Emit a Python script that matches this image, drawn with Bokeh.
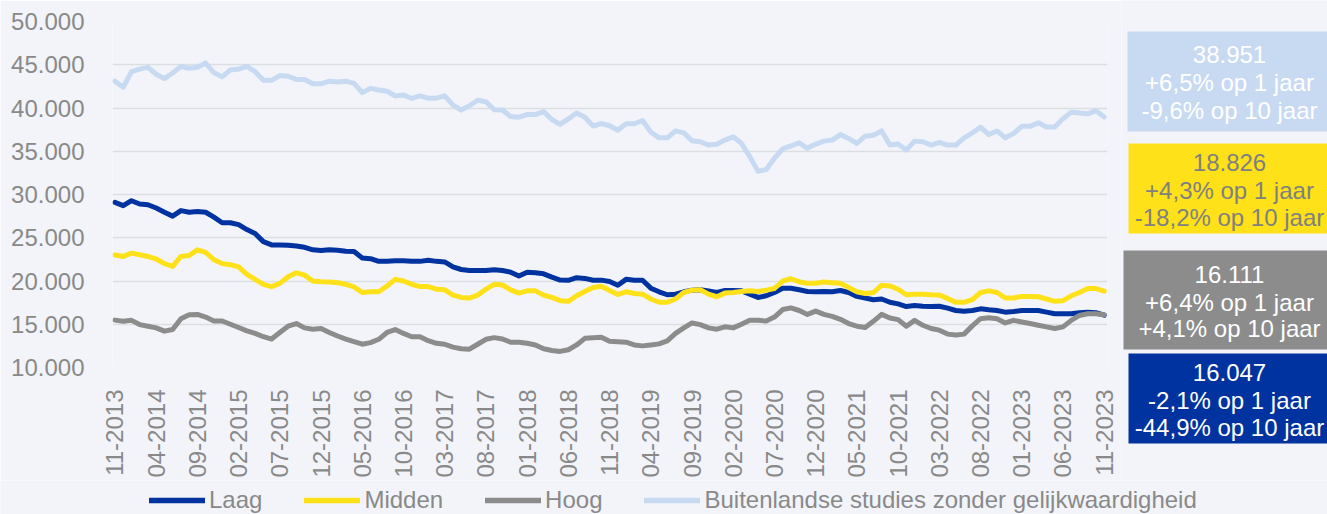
import math
from bokeh.plotting import figure
from bokeh.layouts import row, column
from bokeh.models import Range1d, FixedTicker, Legend, LegendItem
from bokeh.embed import file_html
from bokeh.resources import INLINE

# ---------------- data ----------------
x_tick_labels = ["11-2013", "04-2014", "09-2014", "02-2015", "07-2015", "12-2015",
                 "05-2016", "10-2016", "03-2017", "08-2017", "01-2018", "06-2018",
                 "11-2018", "04-2019", "09-2019", "02-2020", "07-2020", "12-2020",
                 "05-2021", "10-2021", "03-2022", "08-2022", "01-2023", "06-2023",
                 "11-2023"]
y_ticks = [10000, 15000, 20000, 25000, 30000, 35000, 40000, 45000, 50000]
y_tick_labels = ["10.000", "15.000", "20.000", "25.000", "30.000", "35.000",
                 "40.000", "45.000", "50.000"]

series_names = ["Laag", "Midden", "Hoog",
                "Buitenlandse studies zonder gelijkwaardigheid"]

laag = [29090, 28710, 29280, 28900, 28820, 28440, 27950, 27500, 28140, 27950,
        28030, 27950, 27390, 26740, 26740, 26520, 25950, 25490, 24550, 24170,
        24170, 24130, 24050, 23900, 23600, 23520, 23600, 23560, 23450, 23410,
        22650, 22580, 22270, 22270, 22350, 22350, 22270, 22270, 22390, 22270,
        22200, 21630, 21330, 21210, 21210, 21210, 21290, 21210, 21020, 20570,
        21020, 20950, 20830, 20450, 20110, 20080, 20380, 20300, 20080, 20100,
        19950, 19510, 20190, 20080, 20080, 19170, 18750, 18410, 18480, 18750,
        18940, 18980, 18860, 18670, 18900, 18900, 18860, 18480, 18100, 18290,
        18670, 19170, 19170, 18980, 18790, 18750, 18790, 18750, 18900, 18670,
        18220, 18030, 17840, 17920, 17540, 17350, 17050, 17160, 17080, 17050,
        17080, 16860, 16590, 16510, 16590, 16780, 16670, 16590, 16400, 16480,
        16590, 16590, 16590, 16400, 16210, 16210, 16210, 16330, 16400, 16330,
        16047]

midden = [23015, 22840, 23220, 23030, 22840, 22540, 22010, 21700, 22840, 22950,
          23600, 23300, 22460, 22010, 21890, 21630, 20760, 20190, 19620, 19350,
          19730, 20490, 20950, 20680, 20000, 19920, 19890, 19810, 19620, 19320,
          18670, 18750, 18750, 19430, 20190, 20000, 19620, 19350, 19350, 19050,
          18980, 18370, 18100, 18030, 18370, 19050, 19620, 19540, 18980, 18600,
          18860, 18860, 18370, 18100, 17730, 17650, 18290, 18790, 19240, 19400,
          18900, 18450, 18750, 18560, 18480, 17920, 17540, 17540, 17920, 18670,
          18940, 18980, 18480, 18180, 18600, 18670, 18790, 18860, 18790, 18940,
          19130, 20000, 20260, 19920, 19730, 19730, 19890, 19810, 19730, 19240,
          18750, 18560, 18670, 19510, 19430, 19050, 18410, 18480, 18480, 18410,
          18370, 17990, 17540, 17540, 17840, 18670, 18860, 18670, 18030, 18030,
          18220, 18220, 18180, 17920, 17650, 17730, 18290, 18670, 19130, 19130,
          18826]

hoog = [15476, 15340, 15450, 14960, 14770, 14580, 14200, 14390, 15640, 16100,
        16140, 15830, 15380, 15380, 15000, 14620, 14240, 13940, 13560, 13290,
        14050, 14770, 15080, 14580, 14430, 14510, 14050, 13640, 13290, 12990,
        12690, 12880, 13260, 14050, 14390, 13940, 13560, 13560, 13100, 12800,
        12690, 12350, 12160, 12120, 12690, 13260, 13450, 13290, 12920, 12920,
        12800, 12610, 12160, 11970, 11860, 12050, 12610, 13370, 13450, 13500,
        13030, 12990, 12920, 12610, 12500, 12610, 12730, 13070, 13940, 14580,
        15150, 14960, 14580, 14430, 14700, 14580, 15000, 15450, 15450, 15380,
        15830, 16700, 16890, 16590, 16140, 16520, 16140, 15910, 15570, 15080,
        14770, 14620, 15340, 16140, 15720, 15530, 14770, 15450, 14880, 14510,
        14320, 13860, 13750, 13860, 14810, 15640, 15760, 15640, 15150, 15450,
        15260, 15080, 14880, 14700, 14510, 14700, 15450, 16020, 16210, 16210,
        16111]

buitenland = [43100, 42400, 44200, 44500, 44700, 43900, 43400, 44050, 44800, 44600,
              44700, 45200, 44100, 43600, 44400, 44500, 44800, 44200, 43200, 43200,
              43750, 43670, 43300, 43300, 42800, 42800, 43100, 43000, 43100, 42840,
              41780, 42270, 42080, 41930, 41400, 41510, 41100, 41400, 41140, 41140,
              41400, 40340, 39770, 40260, 40900, 40720, 39810, 39770, 39010, 38940,
              39240, 39240, 39580, 38670, 38100, 38750, 39430, 38940, 37920, 38200,
              37950, 37420, 38180, 38180, 38560, 37230, 36550, 36550, 37350, 37120,
              36210, 36100, 35720, 35800, 36290, 36670, 35910, 34390, 32690, 32880,
              34200, 35270, 35610, 35980, 35340, 35830, 36170, 36290, 36930, 36480,
              35910, 36740, 36860, 37350, 35720, 35830, 35150, 36170, 36100, 35720,
              36020, 35720, 35720, 36550, 37120, 37800, 36930, 37350, 36550, 37040,
              37880, 37880, 38290, 37800, 37800, 38750, 39510, 39430, 39320, 39700,
              38951]

box_texts = [
    ["38.951", "+6,5% op 1 jaar", "-9,6% op 10 jaar"],
    ["18.826", "+4,3% op 1 jaar", "-18,2% op 10 jaar"],
    ["16.111", "+6,4% op 1 jaar", "+4,1% op 10 jaar"],
    ["16.047", "-2,1% op 1 jaar", "-44,9% op 10 jaar"],
]

# ---------------- style ----------------
BG = "#F2F4F9"
TXT = "#898989"
C_LAAG = "#0033A0"
C_MID = "#FFE11A"
C_HOOG = "#8C8C8C"
C_BUI = "#C8DAF2"
FONT = "Liberation Sans"
colors = [C_LAAG, C_MID, C_HOOG, C_BUI]
series = [laag, midden, hoog, buitenland]

W_MAIN, W_BOX, H_TOP, H_LEG = 1121, 206, 480, 34
FL, FR, FT, FB = 112, 1107, 21, 373   # frame edges of main chart (px)

# ---------------- main chart ----------------
p = figure(width=W_MAIN, height=H_TOP, output_backend="svg", toolbar_location=None,
           x_range=Range1d(-0.3, 120.4), y_range=Range1d(10000, 50000),
           min_border_left=FL, min_border_right=W_MAIN - FR,
           min_border_top=FT, min_border_bottom=H_TOP - FB)
p.background_fill_color = BG
p.border_fill_color = BG
p.outline_line_color = None

xs = list(range(len(laag)))
for ys, col in zip(series, colors):
    p.line(xs, ys, line_color=col, line_width=5, line_join="round", line_cap="round")

x_ticks = list(range(0, len(laag), 5))
p.xaxis.ticker = FixedTicker(ticks=x_ticks)
p.xaxis.major_label_overrides = {t: lab for t, lab in zip(x_ticks, x_tick_labels)}
p.xaxis.major_label_orientation = math.pi / 2
p.yaxis.ticker = FixedTicker(ticks=y_ticks)
p.yaxis.major_label_overrides = {t: lab for t, lab in zip(y_ticks, y_tick_labels)}
for ax in (p.xaxis, p.yaxis):
    ax.axis_line_color = None
    ax.major_tick_line_color = None
    ax.minor_tick_line_color = None
    ax.major_label_text_font = FONT
    ax.major_label_text_font_size = "24px"
    ax.major_label_text_color = TXT
p.xaxis.major_label_standoff = 16
p.yaxis.major_label_standoff = 22
p.xgrid.grid_line_color = None
p.ygrid.grid_line_color = "#DCDEE2"
p.ygrid.grid_line_width = 1.5

# ---------------- summary boxes (right) ----------------
# data coordinates of this panel = page pixels (x from W_MAIN, y from the top)
pb = figure(width=W_BOX, height=H_TOP, output_backend="svg", toolbar_location=None,
            x_range=Range1d(W_MAIN, W_MAIN + W_BOX), y_range=Range1d(H_TOP, 0),
            min_border=0, min_border_left=0, min_border_right=0,
            min_border_top=0, min_border_bottom=0,
            x_axis_type=None, y_axis_type=None)
pb.background_fill_color = BG
pb.border_fill_color = BG
pb.outline_line_color = None
pb.grid.grid_line_color = None

box_left = [1127, 1128, 1123, 1128]
box_top = [31, 143, 250, 353]
box_bottom = [131, 233, 349, 443]
box_fill = [C_BUI, C_MID, C_HOOG, C_LAAG]
box_text_color = ["white", "#808080", "white", "white"]
line_y = [[54, 82, 109.5], [161.5, 190, 216.5], [273.5, 301.5, 328], [371.5, 400, 426.5]]
TEXT_CX = 1229

pb.quad(left=box_left, right=[W_MAIN + W_BOX + 10] * 4, top=box_top, bottom=box_bottom,
        fill_color=box_fill, line_color=None)
tx, ty, tt, tc = [], [], [], []
for lines, ys, col in zip(box_texts, line_y, box_text_color):
    for txt, yy in zip(lines, ys):
        tx.append(TEXT_CX); ty.append(yy); tt.append(txt); tc.append(col)
pb.text(x=tx, y=ty, text=tt, text_color=tc, text_align="center", text_baseline="middle",
        text_font={"value": FONT}, text_font_size={"value": "24px"})

# ---------------- legend strip (bottom) ----------------
pl = figure(width=W_MAIN + W_BOX, height=H_LEG, output_backend="svg", toolbar_location=None,
            x_range=Range1d(0, 1), y_range=Range1d(0, 1), min_border=0,
            min_border_left=0, min_border_right=0, min_border_top=0, min_border_bottom=0,
            x_axis_type=None, y_axis_type=None)
pl.background_fill_color = BG
pl.border_fill_color = BG
pl.outline_line_color = None
pl.grid.grid_line_color = None
# legend keys: same series, far outside this strip's (0..1) y range, so only the keys show
leg_renderers = [pl.line(xs, ys, line_color=c, line_width=5.5, line_cap="round")
                 for ys, c in zip(series, colors)]
legend = Legend(items=[LegendItem(label=n, renderers=[r]) for n, r in zip(series_names, leg_renderers)],
                orientation="horizontal", location=(149, 0),
                label_text_font=FONT, label_text_font_size="24px", label_text_color=TXT,
                glyph_width=56, glyph_height=24, label_height=24, label_standoff=4,
                spacing=42, padding=0, margin=0, border_line_color=None,
                background_fill_alpha=0)
pl.add_layout(legend)

layout = column(row(p, column(pb, spacing=0), spacing=0), pl, spacing=0)
open("out.html", "w").write(file_html(layout, INLINE))
